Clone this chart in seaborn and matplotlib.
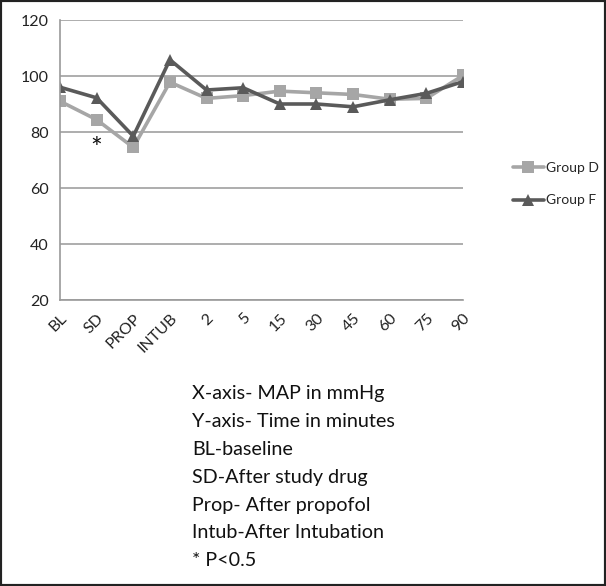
import matplotlib.pyplot as plt
import matplotlib.patches as patches
import seaborn as sns
import pandas as pd

# mean arterial pressure
times = ["BL", "SD", "PROP", "INTUB", "2", "5", "15", "30", "45", "60", "75", "90"]
group_d = [91, 84.4, 74.5, 97.8, 92, 93, 94.6, 94, 93.4, 91.7, 92, 100.2]
group_f = [96, 92.2, 78.5, 105.8, 95, 95.8, 90, 90, 89, 91.5, 93.8, 98]
notes = ["X-axis- MAP in mmHg", "Y-axis- Time in minutes", "BL-baseline",
         "SD-After study drug", "Prop- After propofol", "Intub-After Intubation",
         "* P<0.5"]

sns.set_style("white")
plt.rcParams['font.family'] = ['Lato', 'DejaVu Sans']

df = pd.DataFrame({
    "pos": list(range(len(times))) * 2,
    "map": group_d + group_f,
    "group": ["Group D"] * len(times) + ["Group F"] * len(times),
})

fig = plt.figure(figsize=(6.06, 5.86), dpi=100)
ax = fig.add_axes([60 / 606, 1 - 300 / 586, 403 / 606, 280 / 586])

sns.lineplot(data=df, x="pos", y="map", hue="group", style="group",
             palette={"Group D": "#a6a6a6", "Group F": "#5a5a5a"},
             markers={"Group D": "s", "Group F": "^"}, dashes=False,
             linewidth=2.6, markersize=8.5, markeredgewidth=0, ax=ax)

ax.set_xlim(0, len(times) - 1)
ax.set_ylim(20, 120)
ax.set_yticks(range(20, 121, 20))
ax.set_xticks(range(len(times)))
ax.set_xticklabels(times, rotation=45, ha="right", rotation_mode="anchor")
ax.yaxis.grid(True, color="#a0a0a0", linewidth=1.2)
ax.set_axisbelow(True)
ax.set_xlabel("")
ax.set_ylabel("")
for side in ["top", "right"]:
    ax.spines[side].set_visible(False)
for side in ["left", "bottom"]:
    ax.spines[side].set_color("#9a9a9a")
    ax.spines[side].set_linewidth(1.2)
ax.tick_params(axis="both", direction="out", length=5, width=1.2,
               color="#9a9a9a", labelsize=11.5, labelcolor="#222222", pad=3)

ax.text(1, 73.5, "*", ha="center", va="center", fontsize=20, color="#111111")

ax.legend(loc="center left", bbox_to_anchor=(500 / 606, 1 - 184 / 586),
          bbox_transform=fig.transFigure, frameon=False,
          handlelength=2.3, fontsize=10, labelspacing=1.5, handletextpad=0.1)

for i, line in enumerate(notes):
    fig.text(192 / 606, 1 - (394 + i * 27.8) / 586, line, fontsize=14.2,
             va="center", ha="left", color="#111111")

fig.patches.append(patches.Rectangle((0, 0), 1, 1, transform=fig.transFigure,
                                     fill=False, edgecolor="#222222", linewidth=3))

fig.savefig("out.png", dpi=100)
